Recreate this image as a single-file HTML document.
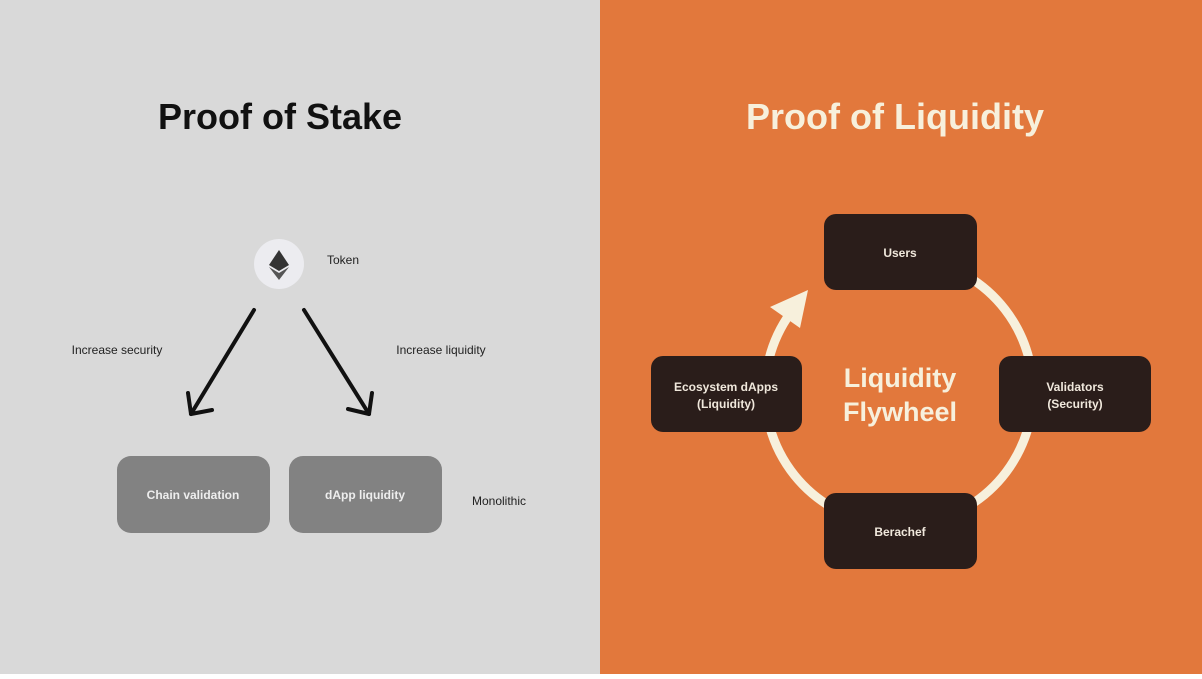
<!DOCTYPE html>
<html><head><style>
body{margin:0;width:1202px;height:674px;overflow:hidden;font-family:"Liberation Sans",sans-serif;}
</style></head><body>
<svg width="1202" height="674" viewBox="0 0 1202 674" xmlns="http://www.w3.org/2000/svg" font-family="Liberation Sans, sans-serif">
<rect x="0" y="0" width="600" height="674" fill="#d9d9d9"/>
<rect x="600" y="0" width="602" height="674" fill="#e2783c"/>
<text x="280" y="129" font-size="36" font-weight="bold" text-anchor="middle" fill="#111">Proof of Stake</text>
<text x="895" y="129" font-size="36" font-weight="bold" text-anchor="middle" fill="#f7f0dc">Proof of Liquidity</text>
<circle cx="279" cy="264" r="25" fill="#ececf0"/>
<polygon points="279,250 269,265 279,271 289,265" fill="#333"/>
<polygon points="279,273 269,267 279,280 289,267" fill="#555"/>
<text x="327" y="264" font-size="12" fill="#222">Token</text>
<text x="117" y="354" font-size="12" fill="#222" text-anchor="middle">Increase security</text>
<text x="441" y="354" font-size="12" fill="#222" text-anchor="middle">Increase liquidity</text>
<g stroke="#111" stroke-width="4" fill="none" stroke-linecap="round" stroke-linejoin="round">
<line x1="254" y1="310" x2="191" y2="414"/>
<polyline points="188,393 191,414 212,410"/>
<line x1="304" y1="310" x2="369" y2="414"/>
<polyline points="348,409 369,414 372,393"/>
</g>
<rect x="117" y="456" width="153" height="77" rx="14" fill="#828282"/>
<rect x="289" y="456" width="153" height="77" rx="14" fill="#828282"/>
<text x="193" y="499" font-size="12" font-weight="bold" fill="#eee" text-anchor="middle">Chain validation</text>
<text x="365" y="499" font-size="12" font-weight="bold" fill="#eee" text-anchor="middle">dApp liquidity</text>
<text x="499" y="505" font-size="12" fill="#222" text-anchor="middle">Monolithic</text>
<path d="M967,276 A134,134 0 1 1 787,318" stroke="#f7f0dc" stroke-width="9" fill="none"/>
<polygon points="808,290 770,307 800,328" fill="#f7f0dc"/>
<g fill="#2a1d1a">
<rect x="824" y="214" width="153" height="76" rx="12"/>
<rect x="651" y="356" width="151" height="76" rx="12"/>
<rect x="999" y="356" width="152" height="76" rx="12"/>
<rect x="824" y="493" width="153" height="76" rx="12"/>
</g>
<g fill="#f0e8dc" font-size="12" font-weight="bold" text-anchor="middle">
<text x="900" y="257">Users</text>
<text x="726" y="391">Ecosystem dApps</text>
<text x="726" y="408">(Liquidity)</text>
<text x="1075" y="391">Validators</text>
<text x="1075" y="408">(Security)</text>
<text x="900" y="536">Berachef</text>
</g>
<text x="900" y="387" font-size="27" font-weight="bold" fill="#f7f0dc" text-anchor="middle">Liquidity</text>
<text x="900" y="421" font-size="27" font-weight="bold" fill="#f7f0dc" text-anchor="middle">Flywheel</text>
</svg>
</body></html>
